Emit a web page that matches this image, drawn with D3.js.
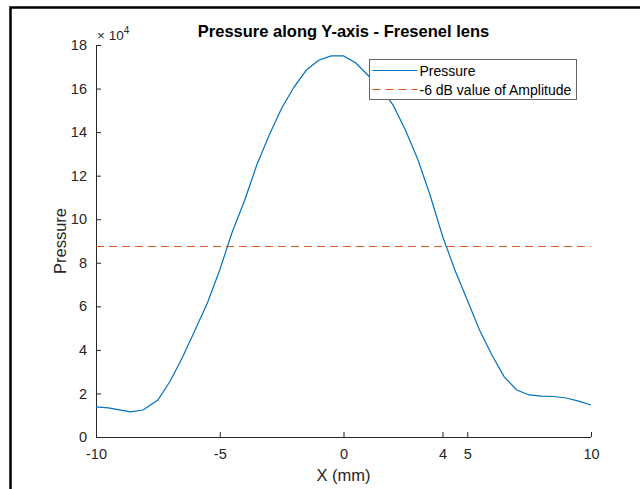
<!DOCTYPE html>
<html><head><meta charset="utf-8">
<script src="https://cdn.jsdelivr.net/npm/d3@7"></script>
<style>
html,body{margin:0;padding:0;background:#fff;}
svg{display:block;font-family:"Liberation Sans",Arial,Helvetica,sans-serif;}
</style></head>
<body>
<script>
// Data (X in mm, pressure in Pa)
const xValues = [-10, -9.5, -9, -8.6, -8.1, -7.5, -7, -6.5, -6, -5.5, -5, -4.5, -4, -3.5, -3, -2.5, -2, -1.5, -1, -0.5, 0, 0.5, 1, 1.5, 2, 2.5, 3, 3.5, 4, 4.5, 5, 5.5, 6, 6.5, 7, 7.5, 8, 8.5, 9, 9.5, 10];
const pressure = [13800, 13400, 12300, 11500, 12400, 17000, 25700, 36700, 49000, 61500, 76700, 94000, 108500, 125000, 138700, 151000, 160700, 168500, 173000, 175000, 175000, 171700, 166000, 160000, 152500, 141000, 127500, 111000, 92300, 76700, 62900, 49000, 37500, 27500, 21600, 19300, 18800, 18600, 17900, 16500, 14700];
const threshold = 87500; // -6 dB value of amplitude
const xTicks = [-10, -5, 0, 4, 5, 10];
const yTicks = [0, 2, 4, 6, 8, 10, 12, 14, 16, 18];
const legendLabels = ["Pressure", "-6 dB value of Amplitude"];
const titleText = "Pressure along Y-axis - Fresenel lens";
const xLabel = "X (mm)";
const yLabel = "Pressure";

const W = 640, H = 489;
const m = {left: 96, right: 49, top: 45, bottom: 52};
const svg = d3.select("body").append("svg").attr("width", W).attr("height", H);

// outer frame (top and left border)
svg.append("path").attr("d", "M10.5,489 L10.5,7.5 L640,7.5")
  .attr("fill", "none").attr("stroke", "#000").attr("stroke-width", 2.5);

const x = d3.scaleLinear().domain([-10, 10]).range([m.left, W - m.right]);
const y = d3.scaleLinear().domain([0, 180000]).range([H - m.bottom, m.top]);
const axisColor = "#262626";

// x axis
const xAxis = svg.append("g").attr("transform", `translate(0,${H - m.bottom})`)
  .call(d3.axisBottom(x).tickValues(xTicks).tickSize(-5).tickPadding(12).tickFormat(v => String(v)));
// y axis
const yAxis = svg.append("g").attr("transform", `translate(${m.left},0)`)
  .call(d3.axisLeft(y).tickValues(yTicks.map(v => v * 1e4)).tickSize(-5).tickPadding(9).tickFormat(v => String(v / 1e4)));
[xAxis, yAxis].forEach(g => {
  g.select(".domain").attr("stroke", axisColor).attr("stroke-width", 1);
  g.selectAll(".tick line").attr("stroke", axisColor);
  g.selectAll(".tick text").attr("fill", axisColor).attr("font-size", 14.5);
});
yAxis.select(".domain").attr("d", `M0.5,${m.top}V${H - m.bottom}`);
xAxis.select(".domain").attr("d", `M${m.left},0.5H${W - m.right}`);

// exponent label
const expT = svg.append("text").attr("x", m.left + 1).attr("y", m.top - 5)
  .attr("font-size", 13.5).attr("fill", axisColor);
expT.append("tspan").text("\u00d7 10");
expT.append("tspan").attr("font-size", 10).attr("dy", -6).text("4");

// threshold dashed line
svg.append("line").attr("x1", x(-10)).attr("x2", x(10))
  .attr("y1", y(threshold)).attr("y2", y(threshold))
  .attr("stroke", "#D95319").attr("stroke-width", 1).attr("stroke-dasharray", "8,5");

// pressure line
const line = d3.line().x((d, i) => x(xValues[i])).y(d => y(d));
svg.append("path").datum(pressure).attr("d", line)
  .attr("fill", "none").attr("stroke", "#0072BD").attr("stroke-width", 1.2);

// title
svg.append("text").attr("x", (m.left + W - m.right) / 2).attr("y", 37)
  .attr("text-anchor", "middle").attr("font-size", 16.5).attr("font-weight", "bold")
  .attr("fill", "#000").text(titleText);

// axis labels
svg.append("text").attr("x", (m.left + W - m.right) / 2).attr("y", 481)
  .attr("text-anchor", "middle").attr("font-size", 16.5).attr("fill", axisColor).text(xLabel);
svg.append("text").attr("transform", `translate(66,${(m.top + H - m.bottom) / 2}) rotate(-90)`)
  .attr("text-anchor", "middle").attr("font-size", 16.5).attr("fill", axisColor).text(yLabel);

// legend
const lg = svg.append("g").attr("transform", "translate(369.5,59.5)");
lg.append("rect").attr("width", 207).attr("height", 40)
  .attr("fill", "#fff").attr("stroke", "#666").attr("stroke-width", 1);
const colors = ["#0072BD", "#D95319"];
const dashes = [null, "8,5"];
legendLabels.forEach((lab, i) => {
  const yy = 11 + i * 19;
  lg.append("line").attr("x1", 3).attr("x2", 48).attr("y1", yy).attr("y2", yy)
    .attr("stroke", colors[i]).attr("stroke-width", 1).attr("stroke-dasharray", dashes[i]);
  lg.append("text").attr("x", 50).attr("y", yy + 5).attr("font-size", 14)
    .attr("fill", "#000").text(lab);
});
</script>
</body></html>
